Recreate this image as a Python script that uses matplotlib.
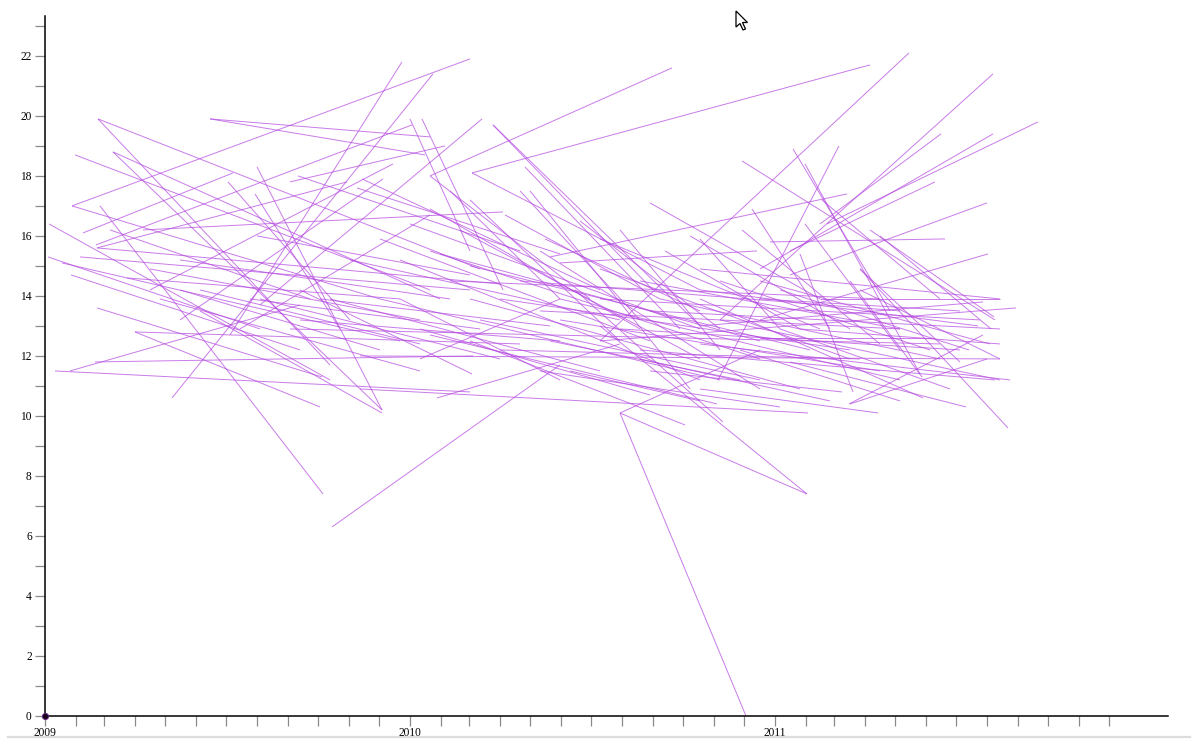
import matplotlib
matplotlib.use("Agg")
import matplotlib.pyplot as plt
from matplotlib.lines import Line2D
from matplotlib.patches import Polygon
import pandas as pd

# ---- data: each segment runs from (start_date, start_value) to (end_date, end_value)
start_dates = [
    "2009-01-28","2009-02-08","2009-01-28","2009-02-23","2009-02-23","2009-01-31","2009-03-10","2009-03-10","2009-02-25","2009-01-05",
    "2009-01-04","2009-01-11","2009-01-26","2009-02-22","2009-02-05","2009-01-27","2009-02-22","2009-04-01","2009-04-01","2009-02-20",
    "2009-05-08","2009-06-05","2009-08-01","2009-06-15","2009-06-15","2009-07-05","2009-04-16","2009-05-16","2010-01-13","2010-01-01",
    "2009-02-21","2009-09-03","2009-02-22","2009-07-03","2009-07-30","2009-09-11","2009-11-09","2009-11-14","2009-04-09","2009-03-07",
    "2009-08-01","2009-03-24","2010-01-21","2010-03-04","2010-03-04","2010-03-25","2010-03-25","2009-08-04","2010-01-21","2010-11-29",
    "2010-07-10","2010-11-07","2011-02-22","2011-02-15","2010-12-17","2011-01-16","2011-01-16","2010-12-27","2010-12-17","2010-05-21",
    "2011-01-19","2011-01-31","2010-12-09","2010-11-29","2010-11-05","2011-01-31","2011-03-27","2010-07-10","2010-10-18","2011-04-06",
    "2010-10-18","2011-01-06","2011-03-16","2011-03-17","2010-10-18","2010-08-19","2011-01-16","2011-03-27","2011-03-17","2010-10-18",
    "2011-01-26","2010-10-18","2010-12-17","2010-08-29","2010-07-10","2010-07-30","2010-07-30","2010-07-30","2009-10-15","2010-01-28",
    "2010-03-02","2010-06-15","2010-05-11","2009-11-12","2010-01-21","2009-09-13","2010-04-21","2010-04-26","2010-04-06","2010-05-16",
    "2010-08-29","2010-09-13","2010-10-08","2010-05-31","2009-09-03","2009-11-12","2010-03-02","2010-01-21","2009-12-22","2009-12-02",
    "2010-02-10","2010-04-01","2010-05-11","2010-07-30","2010-05-31","2010-07-10","2010-11-07","2010-08-29","2010-01-21","2010-02-20",
    "2009-12-22","2009-10-13","2009-11-02","2010-05-21","2010-06-10","2010-07-30","2010-10-18","2010-05-01","2011-01-26","2010-12-17",
    "2010-11-27","2011-03-27","2011-04-16","2011-02-17","2009-05-16","2009-04-26","2009-07-25","2009-01-18",
    "2009-10-03","2009-07-15","2010-01-11",
    "2010-01-01","2010-01-31","2010-03-02","2010-04-21","2009-12-02","2010-05-31","2010-07-10","2010-08-19","2010-10-18","2010-03-12",
    "2010-04-01","2010-01-11","2009-09-13","2009-08-04","2009-06-05","2009-04-16","2009-05-16","2010-07-10","2010-09-08","2010-11-07",
    "2010-12-17","2011-02-15","2010-05-11","2010-06-20","2010-03-02","2010-02-10","2010-08-19","2011-01-06",
]
start_values = [
    17.0,16.1,17.0,19.9,19.9,18.7,18.8,18.8,17.0,16.4,
    15.3,11.5,11.5,15.6,15.3,14.7,13.6,12.8,12.8,11.8,
    10.6,13.5,18.3,19.9,19.9,12.7,14.2,13.2,19.9,19.9,
    15.7,17.8,15.6,17.8,17.4,18.0,17.6,17.9,16.2,16.2,
    16.0,14.6,18.0,18.1,18.1,19.7,19.7,13.7,18.0,18.5,
    12.5,13.2,16.4,16.4,14.9,15.5,14.7,15.8,13.2,15.3,
    18.9,18.4,16.9,16.2,11.2,16.4,14.9,12.5,13.0,16.2,
    14.2,14.2,10.4,10.4,12.4,12.2,11.8,14.9,14.5,10.9,
    15.4,13.9,12.6,11.5,13.0,10.1,10.1,10.1,6.3,10.6,
    12.5,14.2,11.5,10.9,12.7,14.2,17.5,18.3,16.7,15.9,
    17.1,15.5,16.0,15.1,12.9,12.0,13.9,15.5,15.2,15.9,
    14.5,13.9,13.5,12.9,13.9,14.9,14.5,13.5,16.9,16.2,
    13.9,13.9,15.2,12.5,11.5,16.2,15.9,17.5,12.9,13.9,
    12.2,14.2,16.0,17.2,14.2,13.9,13.9,15.1,
    13.9,12.9,11.9,
    16.4,15.4,15.0,14.5,13.9,13.2,13.9,14.5,14.9,13.2,
    12.2,12.9,13.2,13.9,14.2,14.9,15.2,15.9,13.9,13.2,
    14.5,13.9,15.5,16.5,17.2,17.5,11.9,12.9,
]
end_dates = [
    "2010-03-02","2009-07-08","2009-12-02","2010-03-12","2009-10-13","2010-01-21","2009-12-04","2010-01-31","2009-10-06","2009-10-13",
    "2009-08-04","2010-03-02","2009-09-13","2010-04-01","2010-03-02","2009-09-13","2009-10-05","2010-04-21","2009-10-03","2010-03-05",
    "2010-01-24","2009-12-04","2009-12-04","2010-01-21","2010-01-16","2009-12-24","2009-12-15","2009-12-05","2010-04-04","2010-03-02",
    "2010-01-03","2010-02-05","2009-10-30","2009-11-02","2009-10-23","2010-04-21","2010-05-31","2010-07-10","2010-04-04","2009-09-23",
    "2010-03-02","2009-12-22","2010-09-20","2011-04-06","2010-10-18","2010-09-01","2010-10-18","2010-03-14","2010-06-30","2011-08-09",
    "2011-05-15","2011-08-07","2011-09-21","2011-06-16","2011-08-07","2011-06-10","2011-08-01","2011-06-20","2011-08-02","2011-03-14",
    "2011-04-26","2011-05-26","2011-02-25","2011-04-16","2011-03-06","2011-05-06","2011-08-22","2011-08-30","2011-07-28","2011-08-08",
    "2011-07-23","2011-07-14","2011-07-28","2011-08-01","2011-08-24","2011-08-09","2011-07-11","2011-07-05","2011-05-28","2011-04-14",
    "2011-03-20","2011-05-29","2011-06-08","2011-03-09","2011-02-02","2010-12-03","2011-02-02","2010-12-17","2010-05-31","2010-07-30",
    "2010-10-03","2010-11-10","2011-01-06","2011-02-03","2010-11-04","2010-03-04","2010-08-19","2010-09-28","2010-09-08","2010-10-18",
    "2011-02-15","2011-01-26","2011-03-17","2010-12-14","2011-06-15","2011-08-14","2011-01-26","2010-12-17","2010-10-18","2010-08-29",
    "2011-04-16","2011-03-17","2011-05-06","2011-07-05","2011-05-06","2011-03-17","2011-06-05","2011-08-14","2010-08-19","2010-10-18",
    "2010-05-31","2010-07-10","2010-07-30","2010-11-27","2010-10-18","2010-11-07","2011-01-06","2010-10-08","2011-08-14","2011-07-05",
    "2011-05-06","2011-08-14","2011-08-05","2011-06-15","2009-12-02","2010-01-11","2010-03-12","2009-12-22",
    "2010-05-21","2010-01-21","2010-05-31",
    "2010-10-18","2010-12-17","2011-02-05","2011-05-06","2010-11-07","2011-04-16","2011-07-25","2011-05-06","2011-08-14","2010-12-17",
    "2011-03-27","2010-08-29","2010-05-31","2010-04-01","2010-01-11","2010-01-11","2010-02-10","2011-02-15","2011-06-15","2011-08-14",
    "2011-08-04","2011-08-14","2010-12-17","2010-11-07","2010-07-30","2010-05-31","2011-02-25","2011-06-25",
]
end_values = [
    21.9,18.1,13.9,14.9,11.7,14.2,10.2,13.9,7.4,11.2,
    12.9,10.8,13.7,14.4,14.2,12.2,11.3,12.4,10.3,12.0,
    21.4,10.1,10.2,19.3,18.7,21.8,18.4,17.9,14.2,15.5,
    19.7,19.0,17.8,13.2,12.9,15.5,15.4,14.2,16.8,13.9,
    14.7,13.9,21.6,21.7,14.2,14.2,13.0,19.9,13.9,13.2,
    22.1,21.4,19.8,19.4,19.4,17.8,17.1,15.9,15.4,17.4,
    13.5,11.4,12.9,12.4,19.0,12.2,9.6,13.6,13.8,13.3,
    13.0,12.2,12.7,11.9,11.2,11.2,10.3,11.8,11.3,10.1,
    10.8,10.6,12.6,10.8,7.4,0.0,7.4,12.2,11.7,12.4,
    9.7,9.8,10.3,10.1,10.4,11.4,13.2,12.9,13.9,13.5,
    13.9,12.9,12.9,15.5,12.4,11.9,10.9,11.9,11.2,12.5,
    13.9,12.2,12.9,12.2,11.2,11.9,12.2,12.9,12.9,11.9,
    11.2,11.5,13.2,11.2,10.5,12.2,12.9,10.9,12.4,13.5,
    10.5,11.9,12.9,13.9,12.2,11.5,12.9,12.5,
    13.0,16.7,13.9,
    12.9,12.5,12.2,13.5,11.2,11.5,13.2,12.9,13.9,11.2,
    11.9,10.7,12.5,11.9,12.4,13.2,13.9,12.9,11.9,11.2,
    12.4,13.9,10.9,12.9,12.5,13.9,10.5,10.9,
]
origin_date = "2009-01-01"
origin_value = 0.0
year_ticks = ["2009-01-01", "2010-01-01", "2011-01-01"]
year_labels = ["2009", "2010", "2011"]
x_start, x_end = "2009-01-01", "2012-01-29"
y_max = 23.33

# ---- figure
W, H = 1200, 750
fig = plt.figure(figsize=(W / 100, H / 100), dpi=100)
fig.patch.set_facecolor("white")
ax = fig.add_axes([45 / W, 1 - 716 / H, (1168 - 45) / W, (716 - 16) / H])

sd = pd.to_datetime(start_dates)
ed = pd.to_datetime(end_dates)
for a, va, b, vb in zip(sd, start_values, ed, end_values):
    ax.plot([a, b], [va, vb], color="#b448e0", lw=0.7, alpha=0.72,
            solid_capstyle="butt", clip_on=False)

ax.plot([pd.Timestamp(origin_date)], [origin_value], "o", ms=4.5, color="#1a0020",
        mec="#6a2a80", mew=0.6, clip_on=False, zorder=5)

ax.set_xlim(pd.Timestamp(x_start), pd.Timestamp(x_end))
ax.set_ylim(0, y_max)

for s in ["top", "right"]:
    ax.spines[s].set_visible(False)
for s in ["left", "bottom"]:
    ax.spines[s].set_color("black")
    ax.spines[s].set_linewidth(1.1)

serif = "Liberation Serif"
ax.set_xticks(pd.to_datetime(year_ticks))
ax.set_xticklabels(year_labels, fontfamily=serif, fontsize=8.3)
months = pd.date_range("2009-02-01", "2011-12-01", freq="MS")
ax.set_xticks(months, minor=True)
ax.set_yticks(range(0, 23, 2))
ax.set_yticklabels([str(v) for v in range(0, 23, 2)], fontfamily=serif, fontsize=8.3)
ax.set_yticks(range(1, 24, 2), minor=True)
ax.tick_params(axis="both", which="both", direction="out", length=7.5,
               width=0.9, color="#8a8a8a", labelcolor="black")
ax.tick_params(axis="x", which="major", pad=0.5)
ax.tick_params(axis="y", which="major", pad=2)

# bottom page rule and pointer from the screenshot
fig.add_artist(Line2D([8 / W, 1190 / W], [1 - 737 / H, 1 - 737 / H],
                      color="#dcdcdc", lw=1.6))
tip_x, tip_y = 736, 11
pts = [(0, 0), (0, 16), (4, 12.5), (7, 19), (9.5, 18), (6.5, 11.5), (11.5, 11.5)]
cursor = Polygon([((tip_x + dx) / W, 1 - (tip_y + dy) / H) for dx, dy in pts],
                 closed=True, facecolor="white", edgecolor="black", lw=0.9,
                 transform=fig.transFigure)
fig.add_artist(cursor)

fig.savefig("out.png", dpi=100, facecolor="white")
